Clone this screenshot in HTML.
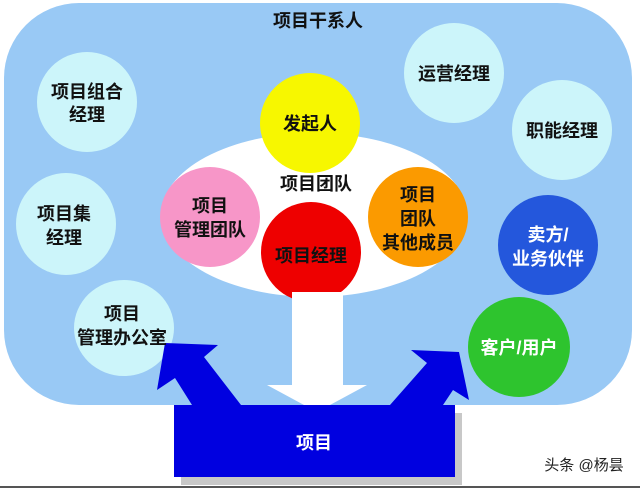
<!DOCTYPE html>
<html><head><meta charset="utf-8"><style>
html,body{margin:0;padding:0;background:#fff;}
svg text{font-family:"Liberation Sans","Noto Sans CJK SC",sans-serif;font-weight:bold;text-anchor:middle;}
</style></head><body>
<svg width="640" height="490" viewBox="0 0 640 490" xmlns="http://www.w3.org/2000/svg">
<rect x="0" y="0" width="640" height="490" fill="#fff"/>
<rect x="4" y="3" width="628" height="402" rx="75" ry="75" fill="#99c9f5"/>
<ellipse cx="314" cy="215" rx="153" ry="82" fill="#fff"/>
<g fill="#ccf5fa">
<ellipse cx="87" cy="102" rx="50" ry="50"/>
<ellipse cx="454" cy="73" rx="50" ry="50"/>
<ellipse cx="562" cy="130" rx="50" ry="50"/>
<ellipse cx="66" cy="224" rx="50" ry="51"/>
<ellipse cx="124" cy="328" rx="50" ry="48"/>
</g>
<ellipse cx="548" cy="245" rx="50" ry="50" fill="#2457dc"/>
<ellipse cx="519" cy="347" rx="51" ry="50" fill="#2ec42e"/>
<ellipse cx="310" cy="123" rx="50" ry="50" fill="#f7f700"/>
<ellipse cx="210" cy="217" rx="50" ry="50" fill="#f796c8"/>
<ellipse cx="418" cy="217" rx="50" ry="50" fill="#fb9a00"/>
<ellipse cx="311" cy="252" rx="50" ry="50" fill="#ee0000"/>
<polygon points="292,292 343,292 343,385 367,385 317,412 267,385 292,385" fill="#fff"/>
<rect x="181" y="413" width="281" height="72" fill="#c8c8c8"/>
<rect x="174" y="405" width="281" height="72" fill="#0000e0"/>
<polygon points="192,405 175,378 157,390 165,343 218,345 204,357 241,405" fill="#0000e0"/>
<polygon points="390,405 427,363 411,350 459,352 469,400 453,390 443,405" fill="#0000e0"/>
<line x1="0" y1="487" x2="640" y2="487" stroke="#555" stroke-width="2"/>
<g font-size="18" fill="#111">
<text x="318" y="27">项目干系人</text>
<text x="87" y="98">项目组合</text><text x="87" y="121">经理</text>
<text x="454" y="80">运营经理</text>
<text x="562" y="137">职能经理</text>
<text x="64" y="220">项目集</text><text x="64" y="244">经理</text>
<text x="122" y="320">项目</text><text x="122" y="344">管理办公室</text>
<text x="310" y="130">发起人</text>
<text x="316" y="190">项目团队</text>
<text x="210" y="212">项目</text><text x="210" y="236">管理团队</text>
<text x="418" y="201">项目</text><text x="418" y="225">团队</text><text x="418" y="249">其他成员</text>
<text x="311" y="262">项目经理</text>
</g>
<g font-size="18" fill="#fff">
<text x="548" y="241">卖方/</text><text x="548" y="265">业务伙伴</text>
<text x="519" y="354">客户/用户</text>
<text x="314" y="449">项目</text>
</g>
<text x="584" y="470" font-size="15" fill="#222" style="font-weight:normal">头条 @杨昙</text>
</svg>
</body></html>
